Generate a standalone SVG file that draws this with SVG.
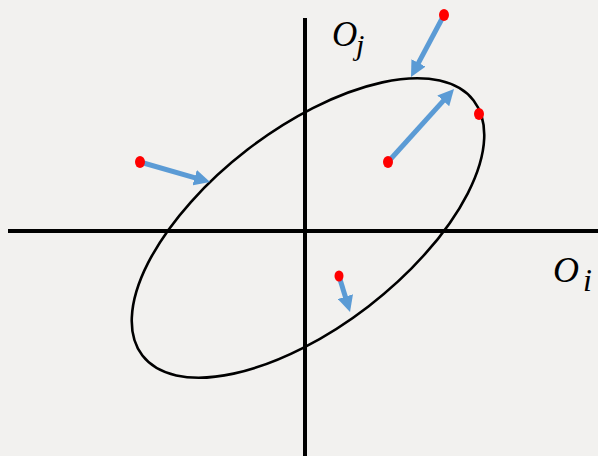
<svg xmlns="http://www.w3.org/2000/svg" width="598" height="456" viewBox="0 0 598 456">
<style>
.axis{stroke:#000;stroke-width:4;fill:none}
.ell{stroke:#000;stroke-width:2.6;fill:none}
.arr{stroke:#5B9BD5;stroke-width:5;fill:none;marker-end:url(#ah)}
.dot{fill:#FF0000}
.lbl{font-family:"Liberation Serif","DejaVu Serif",serif;font-style:italic;fill:#000}
</style>
<defs>
<marker id="ah" viewBox="0 0 16 16" refX="6" refY="8" markerWidth="16" markerHeight="16" markerUnits="userSpaceOnUse" orient="auto">
<path d="M0,0 L16,8 L0,16 z" fill="#5B9BD5"/>
</marker>
</defs>
<rect width="598" height="456" fill="#F2F1EF"/>
<g id="axes">
<line class="axis" x1="8" y1="231" x2="598" y2="231"/>
<line class="axis" x1="305" y1="18" x2="305" y2="456"/>
</g>
<g id="ellipse">
<ellipse class="ell" cx="308" cy="228" rx="209" ry="99" transform="rotate(-37.6 308 228)"/>
</g>
<g id="labels">
<text class="lbl" x="332" y="46" font-size="35">O</text>
<text class="lbl" x="356" y="55" font-size="30">j</text>
<text class="lbl" x="553" y="282" font-size="36">O</text>
<text class="lbl" x="583" y="291" font-size="32">i</text>
</g>
<g id="connectors">
<line class="arr" x1="444" y1="15" x2="415.7" y2="68.2"/>
<line class="arr" x1="388" y1="162" x2="447.3" y2="96.4"/>
<line class="arr" x1="140" y1="162" x2="200.4" y2="179.3"/>
<line class="arr" x1="339" y1="276" x2="347.1" y2="302.4"/>
</g>
<g id="points">
<ellipse class="dot" cx="444" cy="15" rx="5" ry="6"/>
<ellipse class="dot" cx="388" cy="162" rx="5" ry="6"/>
<ellipse class="dot" cx="140" cy="162" rx="5" ry="6"/>
<ellipse class="dot" cx="339" cy="276" rx="4.5" ry="5.5"/>
<ellipse class="dot" cx="479" cy="114" rx="5" ry="6"/>
</g>
</svg>
